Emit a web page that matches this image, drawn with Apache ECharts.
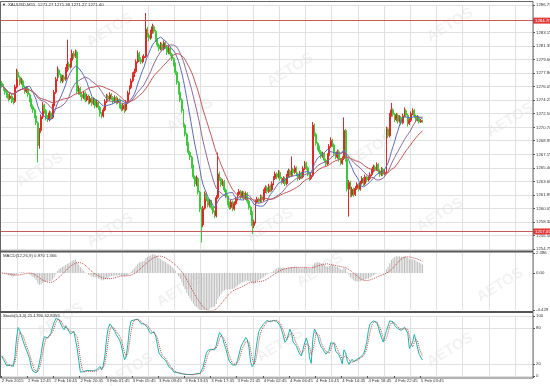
<!DOCTYPE html>
<html><head><meta charset="utf-8">
<script src="https://cdn.jsdelivr.net/npm/echarts@6/dist/echarts.min.js"></script>
<style>html,body{margin:0;padding:0;background:#fff}#c{width:550px;height:386px}</style>
</head><body><div id="c"></div>
<script>
// ---- data (XAUUSD M15) ----
const firstOpen = 1276.5;
const close = [
1276.2,1275.8,1275.3,1274.9,1274.5,1274.8,1274.2,1274.1,1276.0,1277.9,
1277.3,1276.5,1276.8,1276.0,1275.4,1275.8,1275.0,1274.3,1273.4,1273.0,
1272.2,1271.3,1268.3,1270.3,1272.1,1273.6,1272.9,1272.0,1271.8,1272.6,
1272.0,1273.5,1275.3,1277.0,1278.2,1277.6,1276.8,1277.3,1277.0,1278.3,
1279.0,1278.6,1279.5,1280.4,1280.0,1280.6,1275.4,1275.8,1275.0,1274.6,
1275.2,1274.3,1274.8,1274.0,1274.5,1273.8,1274.3,1273.5,1274.0,1273.3,
1272.5,1272.2,1273.0,1274.1,1274.8,1274.4,1275.0,1274.6,1274.1,1274.6,
1274.0,1274.3,1273.5,1273.1,1273.6,1273.0,1274.0,1275.2,1275.9,1276.8,
1277.6,1278.0,1279.3,1280.4,1279.6,1279.3,1279.8,1280.0,1283.6,1282.8,
1282.4,1283.2,1283.9,1283.3,1282.2,1281.5,1281.0,1281.6,1281.0,1281.8,
1281.3,1280.5,1281.1,1280.3,1279.7,1279.0,1277.9,1276.6,1275.3,1274.3,
1272.9,1271.0,1269.8,1268.6,1267.4,1266.8,1265.6,1264.2,1263.3,1264.0,
1262.2,1260.0,1257.9,1260.1,1262.0,1261.3,1260.5,1261.0,1260.2,1259.6,
1259.1,1261.5,1264.6,1264.0,1263.2,1263.6,1262.5,1261.7,1260.8,1260.2,
1260.9,1260.0,1260.7,1261.3,1261.9,1262.3,1261.6,1262.1,1261.4,1262.0,
1261.0,1260.2,1259.5,1257.8,1258.3,1260.9,1261.3,1261.0,1261.6,1261.2,
1262.3,1262.8,1262.3,1263.0,1262.5,1263.3,1264.0,1264.6,1264.2,1264.8,
1264.0,1263.5,1264.0,1263.3,1264.3,1265.0,1264.4,1265.2,1264.8,1265.4,
1264.6,1264.0,1264.7,1264.2,1265.3,1266.0,1265.4,1264.6,1264.0,1264.4,
1271.0,1269.8,1268.6,1268.0,1267.5,1266.9,1267.2,1266.4,1265.9,1267.0,
1268.2,1269.0,1268.4,1267.3,1266.8,1267.5,1266.5,1266.0,1266.6,1270.3,
1266.5,1262.6,1263.5,1261.8,1262.6,1261.9,1262.7,1263.2,1262.6,1263.4,
1264.0,1263.3,1264.2,1263.8,1264.0,1264.5,1265.0,1265.5,1265.2,1265.8,
1265.0,1264.5,1265.2,1264.6,1264.8,1270.5,1269.6,1272.3,1273.0,1272.4,
1271.7,1272.3,1271.5,1272.0,1271.3,1272.2,1272.9,1272.3,1271.2,1271.6,
1272.5,1272.9,1272.2,1271.7,1272.0,1271.4,1271.6,1271.4];
const high = [
1276.8,1276.4,1276.0,1275.6,1275.1,1275.2,1275.0,1274.6,1276.3,1278.4,
1278.2,1277.5,1277.2,1277.0,1276.2,1276.1,1276.0,1275.2,1274.5,1273.7,
1273.2,1272.5,1271.5,1270.6,1272.4,1274.0,1273.8,1273.1,1272.3,1272.9,
1272.8,1273.8,1275.6,1277.3,1278.7,1278.4,1277.8,1277.6,1277.6,1278.6,
1282.2,1279.3,1279.8,1280.9,1280.7,1280.9,1280.8,1276.2,1276.0,1275.3,
1275.5,1275.4,1275.1,1275.0,1274.8,1274.7,1274.6,1274.5,1274.3,1274.2,
1273.5,1272.7,1273.3,1274.4,1275.1,1275.0,1275.3,1275.2,1274.8,1274.9,
1274.8,1274.6,1274.5,1273.7,1273.9,1273.8,1274.3,1275.5,1276.2,1277.1,
1277.9,1278.4,1279.6,1280.8,1280.6,1279.9,1280.1,1280.3,1285.7,1283.9,
1283.1,1283.5,1284.3,1284.1,1283.5,1282.4,1281.7,1281.9,1281.8,1282.1,
1282.0,1281.5,1281.4,1281.3,1280.5,1279.9,1279.2,1278.1,1276.8,1275.5,
1274.5,1273.1,1271.2,1270.0,1268.8,1267.6,1267.0,1265.8,1264.4,1264.4,
1264.2,1262.4,1260.2,1260.4,1262.3,1262.2,1261.5,1261.3,1261.2,1260.4,
1259.8,1261.8,1267.4,1264.9,1264.2,1263.9,1263.8,1262.7,1261.9,1261.0,
1261.2,1261.1,1261.0,1261.6,1262.2,1262.6,1262.5,1262.4,1262.3,1262.3,
1262.2,1261.2,1260.4,1259.7,1258.6,1261.2,1261.6,1261.5,1261.9,1261.8,
1262.6,1263.1,1263.0,1263.3,1263.2,1263.6,1264.3,1264.9,1264.8,1265.1,
1265.0,1264.2,1264.3,1264.2,1264.6,1265.3,1265.2,1266.9,1265.4,1265.7,
1265.6,1264.8,1265.0,1264.9,1265.6,1266.3,1266.2,1265.6,1264.8,1264.7,
1271.4,1271.2,1270.0,1268.8,1268.3,1267.7,1267.5,1267.4,1266.6,1267.3,
1268.5,1269.4,1269.2,1268.6,1267.5,1267.8,1267.7,1266.7,1266.9,1272.0,
1270.5,1266.7,1263.8,1263.7,1262.9,1262.8,1263.0,1263.5,1263.4,1263.7,
1264.3,1264.2,1264.5,1264.4,1264.3,1264.8,1265.3,1265.8,1265.7,1266.1,
1266.0,1265.2,1265.5,1265.4,1265.1,1270.8,1270.7,1272.6,1273.9,1273.2,
1272.6,1272.6,1272.5,1272.3,1272.2,1272.5,1273.3,1273.1,1272.5,1271.9,
1272.8,1273.2,1273.1,1272.4,1272.3,1272.2,1271.8,1271.7];
const low = [
1275.9,1275.5,1275.0,1274.6,1274.1,1274.3,1273.9,1273.7,1273.9,1275.8,
1277.0,1276.2,1276.3,1275.7,1275.1,1275.2,1274.7,1274.0,1273.1,1272.6,
1271.9,1271.0,1266.1,1267.9,1270.0,1271.8,1272.5,1271.6,1271.4,1271.5,
1271.7,1271.8,1273.3,1275.1,1276.8,1277.2,1276.5,1276.5,1276.7,1276.8,
1278.0,1278.2,1278.4,1279.3,1279.7,1279.8,1275.1,1275.0,1274.7,1274.2,
1274.4,1274.0,1274.1,1273.7,1273.8,1273.5,1273.6,1273.2,1273.3,1273.0,
1272.1,1271.9,1272.0,1272.8,1273.9,1274.1,1274.2,1274.3,1273.8,1273.9,
1273.7,1273.8,1273.2,1272.8,1272.9,1272.6,1272.8,1273.8,1275.0,1275.7,
1276.6,1277.3,1277.8,1279.1,1279.3,1279.0,1279.1,1279.5,1279.8,1282.5,
1282.0,1282.2,1283.0,1283.0,1281.9,1281.2,1280.7,1280.8,1280.7,1280.8,
1281.0,1280.2,1280.3,1280.0,1279.4,1278.7,1277.6,1276.3,1275.0,1274.0,
1272.6,1270.7,1269.5,1268.3,1267.1,1266.4,1265.3,1263.9,1262.9,1263.0,
1261.9,1259.6,1255.6,1257.6,1259.9,1261.0,1260.2,1260.2,1259.9,1259.3,
1258.8,1258.9,1261.3,1263.7,1262.9,1263.0,1262.2,1261.4,1260.5,1259.9,
1260.0,1259.7,1259.8,1260.5,1261.1,1261.7,1261.3,1261.4,1261.1,1261.2,
1260.7,1259.9,1259.2,1256.7,1257.5,1258.1,1260.7,1260.7,1260.8,1260.9,
1261.0,1262.1,1262.0,1262.1,1262.2,1262.3,1263.1,1263.8,1263.9,1264.0,
1263.7,1263.2,1263.3,1263.0,1263.1,1264.1,1264.1,1264.2,1264.5,1264.6,
1264.3,1263.7,1263.8,1263.9,1264.0,1265.1,1265.1,1264.3,1263.7,1263.8,
1264.2,1269.5,1268.3,1267.7,1267.2,1266.6,1266.7,1266.1,1265.6,1265.7,
1266.8,1268.0,1268.1,1267.0,1266.5,1266.6,1266.2,1265.7,1265.8,1266.4,
1266.2,1262.3,1259.0,1261.5,1261.6,1261.6,1261.7,1262.5,1262.3,1262.4,
1263.2,1263.0,1263.1,1263.5,1263.6,1263.8,1264.3,1264.8,1264.9,1265.0,
1264.7,1264.2,1264.3,1264.3,1264.4,1264.6,1269.3,1269.4,1272.1,1272.1,
1271.4,1271.5,1271.2,1271.3,1271.0,1271.1,1272.0,1272.0,1270.8,1271.0,
1271.4,1272.3,1271.9,1271.4,1271.5,1271.2,1271.3,1271.3];
// each candle opens at the previous candle's close
const open = [firstOpen].concat(close.slice(0, close.length - 1));

const xLabels = ['2 Feb 2015','2 Feb 12:45','2 Feb 16:45','2 Feb 20:45','3 Feb 01:45','3 Feb 05:45',
 '3 Feb 09:45','3 Feb 13:45','3 Feb 17:45','3 Feb 21:45','4 Feb 02:45','4 Feb 06:45','4 Feb 10:45',
 '4 Feb 14:45','4 Feb 18:45','4 Feb 22:45','5 Feb 03:45'];
const priceTicks = [1254.75,1256.50,1258.30,1260.05,1261.85,1263.60,1265.40,1267.15,1268.95,
 1270.70,1272.50,1274.25,1276.05,1277.80,1279.60,1281.35,1283.15,1286.75];
const macdTicks = [-4.429, 0, 2.386];
const macdTickLabels = ['-4.429','0.00','2.386'];
const stochTicks = [0, 20, 80, 100];
const levelLines = [1284.70, 1257.05];
const lastPrice = 1271.40;
const headerText = 'XAUUSD,M15  1271.27 1271.38 1271.27 1271.40';
const macdText = 'MACD(12,26,9) 0.970 1.366';
const stochText = 'Stoch(5,3,3) 25.1790 32.8355';

// ---- indicators derived from the price data ----
const N = close.length, SLOTS = 325;
const cats = Array.from({length: SLOTS}, (_, i) => i);
function sma(arr, n) { return arr.map((_, i) => { const s = Math.max(0, i - n + 1); let t = 0; for (let j = s; j <= i; j++) t += arr[j]; return t / (i - s + 1); }); }
function ema(arr, n) { const k = 2 / (n + 1); const out = []; arr.forEach((v, i) => out.push(i ? out[i-1] + k * (v - out[i-1]) : v)); return out; }
const e12 = ema(close, 12), e26 = ema(close, 26);
const macd = close.map((_, i) => e12[i] - e26[i]);
const macdSig = sma(macd, 9);
const KP = 12;
const ll = low.map((_, i) => Math.min(...low.slice(Math.max(0, i - KP + 1), i + 1)));
const hh = high.map((_, i) => Math.max(...high.slice(Math.max(0, i - KP + 1), i + 1)));
const stochMain = close.map((_, i) => { let a = 0, b = 0; for (let j = Math.max(0, i - 2); j <= i; j++) { a += close[j] - ll[j]; b += hh[j] - ll[j]; } return b ? a / b * 100 : 50; });
const stochSig = sma(stochMain, 3);
const ma1 = sma(close, 10), ma2 = sma(close, 20), ma3 = sma(close, 30);
const ohlc = close.map((c, i) => [open[i], c, low[i], high[i]]);

const FONT = 'Liberation Sans';
const FS = 4.3;
const gridLine = {show: true, lineStyle: {color: '#e0e0e0', width: 1}, interval: (i) => i % 16 === 10};
const isLab = (i) => i % 16 === 0 && i / 16 < xLabels.length;
function xAx(idx, showLabels) {
  return {type: 'category', gridIndex: idx, data: cats, boundaryGap: true,
    axisLine: {show: false}, axisTick: {show: showLabels, length: 2, interval: isLab, lineStyle: {color: '#555'}},
    axisLabel: {show: showLabels, interval: isLab, hideOverlap: false, formatter: (v, i) => xLabels[Math.round(i / 16)] || '', fontSize: FS, fontFamily: FONT, color: '#333', align: 'left', margin: 3},
    splitLine: gridLine};
}
const yLabel = {fontSize: FS, fontFamily: FONT, color: '#333', margin: 3};
const wm = [];
[[110,30],[290,70],[450,25],[190,115],[370,150],[40,170],[510,120],[110,230],[270,225],[440,215],
 [320,270],[180,290],[500,285],[60,320],[280,345],[450,350],[130,370]].forEach(p => wm.push({
  type: 'text', x: p[0], y: p[1], rotation: 0.55, silent: true, z: 0,
  style: {text: 'AETOS', fill: 'rgba(0,0,0,0.055)', font: 'bold 15px ' + FONT, align: 'center', verticalAlign: 'middle'}}));

const option = {
  animation: false, backgroundColor: '#fff',
  grid: [
    {left: 1, width: 532, top: 5, height: 244, outerBoundsMode: 'none'},
    {left: 1, width: 532, top: 253, height: 57, outerBoundsMode: 'none'},
    {left: 1, width: 532, top: 316, height: 60, outerBoundsMode: 'none'}],
  xAxis: [xAx(0, false), xAx(1, false), xAx(2, true)],
  yAxis: [
    {type: 'value', gridIndex: 0, position: 'right', min: priceTicks[0], max: priceTicks[priceTicks.length - 1],
      axisLine: {show: false}, axisTick: {show: true, length: 2, customValues: priceTicks, lineStyle: {color: '#555'}},
      axisLabel: Object.assign({customValues: priceTicks, formatter: v => v.toFixed(2)}, yLabel),
      splitLine: {show: true, lineStyle: {color: '#e0e0e0'}}},
    {type: 'value', gridIndex: 1, position: 'right', min: macdTicks[0], max: macdTicks[2],
      axisLine: {show: false}, axisTick: {show: true, length: 2, customValues: macdTicks, lineStyle: {color: '#555'}},
      axisLabel: Object.assign({customValues: macdTicks, formatter: v => macdTickLabels[macdTicks.indexOf(v)] ?? v}, yLabel),
      splitLine: {show: false}},
    {type: 'value', gridIndex: 2, position: 'right', min: 0, max: 100,
      axisLine: {show: false}, axisTick: {show: true, length: 2, customValues: stochTicks, lineStyle: {color: '#555'}},
      axisLabel: Object.assign({customValues: stochTicks}, yLabel),
      splitLine: {show: true, lineStyle: {color: '#e0e0e0'}}}],
  graphic: wm.concat([
    {type: 'rect', shape: {x: 0.5, y: 1.5, width: 532.5, height: 376.5}, style: {fill: 'none', stroke: '#666', lineWidth: 1}, silent: true, z: 50},
    {type: 'line', shape: {x1: 0, y1: 251.5, x2: 533, y2: 251.5}, style: {stroke: '#555', lineWidth: 2}, silent: true, z: 50},
    {type: 'line', shape: {x1: 0, y1: 312, x2: 533, y2: 312}, style: {stroke: '#555', lineWidth: 2}, silent: true, z: 50},
    {type: 'text', x: 2, y: 3, style: {text: '\u25BC', fill: '#222', font: '4px ' + FONT}, z: 60},
    {type: 'text', x: 8, y: 3, style: {text: headerText, fill: '#333', font: FS + 'px ' + FONT}, z: 60},
    {type: 'text', x: 3, y: 254, style: {text: macdText, fill: '#333', font: FS + 'px ' + FONT}, z: 60},
    {type: 'text', x: 3, y: 314, style: {text: stochText, fill: '#333', font: FS + 'px ' + FONT}, z: 60}
  ]),
  series: [
    {type: 'candlestick', xAxisIndex: 0, yAxisIndex: 0, data: ohlc, barWidth: 1.4,
      itemStyle: {color: '#c8a456', color0: '#6ee06e', borderColor: '#e02828', borderColor0: '#3cc83c', borderWidth: 1},
      markLine: {silent: true, symbol: 'none', animation: false,
        data: levelLines.map(v => ({yAxis: v, lineStyle: {color: '#c85a5a', width: 1, type: 'solid'},
          label: {show: true, position: 'end', distance: 0, formatter: v.toFixed(2), fontSize: FS, fontFamily: FONT, color: '#fff', backgroundColor: '#e03a3a', padding: [1, 2]}}))
          .concat([{yAxis: lastPrice, lineStyle: {opacity: 0},
          label: {show: true, position: 'end', distance: 0, formatter: lastPrice.toFixed(2), fontSize: FS, fontFamily: FONT, color: '#fff', backgroundColor: '#111', padding: [1, 2]}}])}},
    {type: 'line', xAxisIndex: 0, yAxisIndex: 0, data: ma1, showSymbol: false, lineStyle: {color: '#5a6cb8', width: 1}},
    {type: 'line', xAxisIndex: 0, yAxisIndex: 0, data: ma2, showSymbol: false, lineStyle: {color: '#8c6a96', width: 1}},
    {type: 'line', xAxisIndex: 0, yAxisIndex: 0, data: ma3, showSymbol: false, lineStyle: {color: '#c05858', width: 1}},
    {type: 'bar', xAxisIndex: 1, yAxisIndex: 1, data: macd, barWidth: 1, itemStyle: {color: '#bdbdbd'}},
    {type: 'line', xAxisIndex: 1, yAxisIndex: 1, data: macdSig, showSymbol: false, lineStyle: {color: '#c04a4a', width: 1, type: 'dotted'}},
    {type: 'line', xAxisIndex: 2, yAxisIndex: 2, data: stochMain, showSymbol: false, lineStyle: {color: '#20b2aa', width: 1}},
    {type: 'line', xAxisIndex: 2, yAxisIndex: 2, data: stochSig, showSymbol: false, lineStyle: {color: '#c04a4a', width: 1, type: 'dotted'}}
  ]
};
const chart = echarts.init(document.getElementById('c'));
chart.setOption(option);
</script></body></html>
